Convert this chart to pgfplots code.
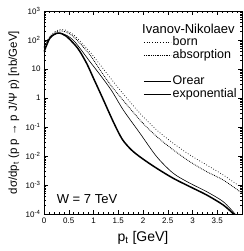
\documentclass[border=0pt]{standalone}
\usepackage{fontspec}
\setmainfont{Liberation Sans}
\usepackage{pgfplots}
\pgfplotsset{compat=1.18}
\begin{document}
\begin{tikzpicture}[x=1pt,y=1pt]
\useasboundingbox (-44,-37) rectangle (199,214);
\begin{axis}[
  at={(0,0)}, anchor=south west,
  width=198pt, height=203pt, scale only axis,
  xmin=0, xmax=4, ymin=1e-4, ymax=1e3, ymode=log,
  xtick={0,0.5,1,1.5,2,2.5,3,3.5,4},
  xticklabels={0,0.5,1,1.5,2,2.5,3,3.5,{}},
  minor x tick num=4,
  ytick={1e-4,1e-3,1e-2,1e-1,1,10,100,1000},
  yticklabels={10\textsuperscript{-4},10\textsuperscript{-3},10\textsuperscript{-2},10\textsuperscript{-1},1,10,10\textsuperscript{2},10\textsuperscript{3}},
  tick align=inside,
  major tick length=4pt, minor tick length=2pt,
  tick style={black, line width=0.5pt},
  axis line style={line width=0.6pt},
  tick label style={font=\fontsize{8}{9}\selectfont},
  /pgf/number format/assume math mode=true,
  xlabel={p\textsubscript{t} [GeV]},
  xlabel style={at={(axis description cs:0.5,-0.118)}, anchor=center, font=\fontsize{14}{16}\selectfont},
  ylabel={dσ/dp\textsubscript{t} (p p → p J/Ψ p) [nb/GeV]},
  ylabel style={at={(axis description cs:-0.152,0.5)}, anchor=center, font=\fontsize{11.5}{13}\selectfont},
  legend cell align=left,
  legend image code/.code={\draw[#1] (0pt,0pt) -- (27pt,0pt);},
  legend style={at={(rel axis cs:0.5,0.877)}, anchor=north west, draw=none, fill=none,
    font=\fontsize{12.5}{13}\selectfont, row sep=0pt, inner sep=0pt,
    nodes={text height=8.5pt, text depth=2.5pt, inner sep=1pt}},
]
\addplot[black, dotted, line width=0.7pt, smooth] coordinates {
(0,57.4) (0.121,137) (0.283,221) (0.424,221) (0.626,137) (0.929,38.5) (1.232,8.51) (1.535,1.89) (1.939,0.296) (2.277,0.0789) (2.612,0.0274) (2.949,0.0108) (3.287,0.0049) (3.622,0.00221) (4.0,0.000794)};
\addlegendentry{born}
\addplot[black, densely dotted, line width=0.8pt, smooth] coordinates {
(0,53.0) (0.121,127) (0.283,204) (0.444,189) (0.626,117) (0.929,30.4) (1.167,7.59) (1.40,2.14) (1.939,0.174) (2.277,0.0468) (2.612,0.0162) (2.949,0.00635) (3.287,0.00288) (3.622,0.00148) (4.0,0.000525)};
\addlegendentry{absorption}
\addlegendimage{empty legend}
\addlegendentry{}
\addplot[black, line width=0.6pt, smooth] coordinates {
(0,41.8) (0.121,117) (0.283,174) (0.444,149) (0.626,85.3) (0.929,17.8) (1.133,6.31) (1.367,1.78) (1.602,0.385) (1.939,0.0607) (2.277,0.00946) (2.612,0.00253) (2.949,0.00115) (3.287,0.000589) (3.622,0.000265) (3.86,0.0001)};
\addlegendentry{Orear}
\addplot[black, line width=1.5pt, smooth] coordinates {
(0,38.5) (0.121,117) (0.283,174) (0.444,137) (0.626,67.6) (0.727,39.8) (0.869,14.8) (1.0,4.79) (1.17,1.12) (1.40,0.151) (1.58,0.0380) (1.77,0.0160) (1.98,0.00830) (2.277,0.00377) (2.612,0.00170) (2.949,0.000873) (3.287,0.000452) (3.622,0.000204) (3.83,0.0001)};
\addlegendentry{exponential}
\node[anchor=west, inner sep=0pt, font=\fontsize{13}{14}\selectfont] at (rel axis cs:0.495,0.911) {Ivanov-Nikolaev};
\node[anchor=west, inner sep=0pt, font=\fontsize{13}{14}\selectfont] at (rel axis cs:0.064,0.074) {W = 7 TeV};
\end{axis}
\end{tikzpicture}
\end{document}
